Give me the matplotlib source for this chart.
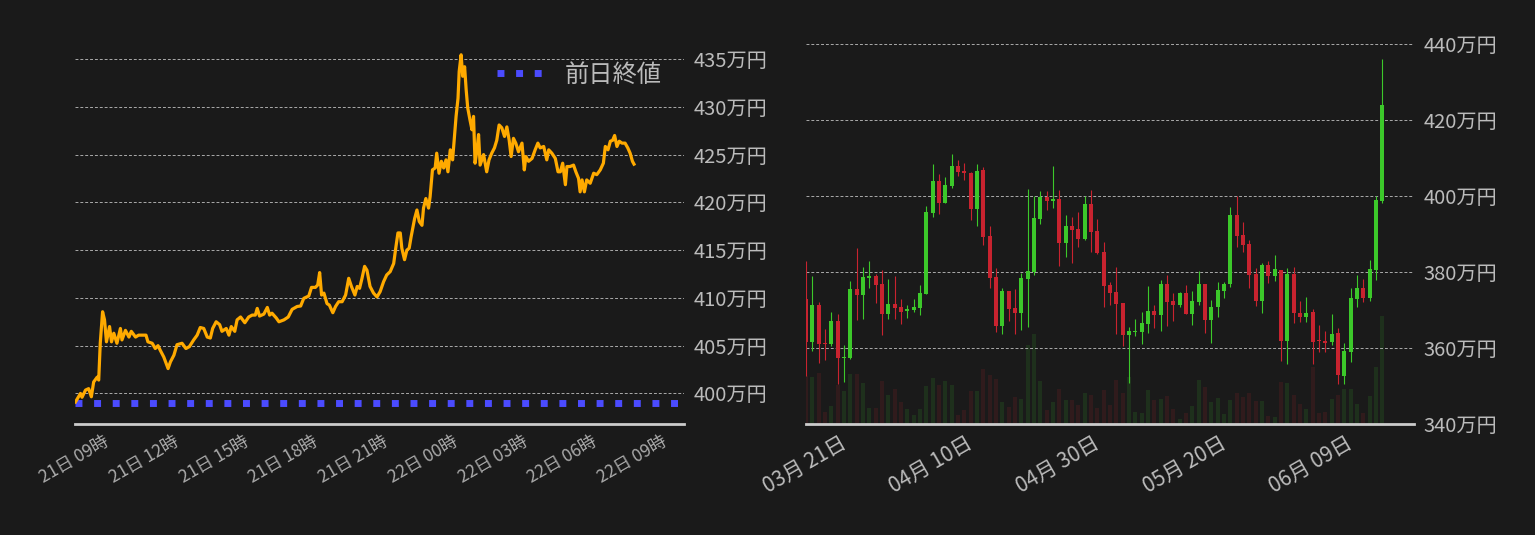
import numpy as np
import pandas as pd
import matplotlib
matplotlib.use('Agg')
import matplotlib.pyplot as plt
import matplotlib.dates as mdates
from matplotlib.ticker import MultipleLocator, FuncFormatter, FixedLocator

plt.rcParams['font.family'] = ['Noto Sans CJK JP', 'DejaVu Sans']

# ---- intraday (left) : minutes from 21日 00:00, price in 万円 ----
intra_minutes = [445, 458, 462, 471, 479, 486, 492, 501, 505, 509, 515, 520, 525, 533, 538, 544,
                 552, 561, 565, 574, 583, 589, 600, 608, 627, 632, 643, 651, 658, 664, 673, 684,
                 690, 699, 707, 720, 730, 739, 750, 759, 767, 776, 785, 793, 799, 808, 817, 823,
                 834, 841, 847, 856, 862, 871, 882, 892, 901, 909, 914, 920, 931, 940, 946, 952,
                 963, 970, 983, 994, 1004, 1017, 1026, 1034, 1047, 1054, 1064, 1070, 1075, 1080,
                 1086, 1094, 1100, 1109, 1116, 1124, 1133, 1142, 1150, 1157, 1166, 1172, 1178, 1184,
                 1191, 1197, 1205, 1214, 1223, 1231, 1240, 1248, 1257, 1266, 1272, 1277, 1283, 1287,
                 1294, 1300, 1306, 1311, 1320, 1326, 1332, 1339, 1343, 1349, 1356, 1360, 1366, 1373,
                 1377, 1383, 1389, 1395, 1401, 1406, 1412, 1418, 1423, 1427, 1432, 1435, 1440, 1444,
                 1449, 1453, 1457, 1463, 1468, 1472, 1476, 1481, 1485, 1489, 1498, 1506, 1512, 1519,
                 1526, 1532, 1538, 1545, 1552, 1558, 1564, 1569, 1575, 1581, 1588, 1597, 1603, 1607,
                 1614, 1623, 1631, 1638, 1644, 1653, 1661, 1666, 1674, 1683, 1690, 1696, 1702, 1709,
                 1713, 1721, 1730, 1736, 1743, 1747, 1752, 1758, 1764, 1773, 1782, 1790, 1799, 1807,
                 1812, 1819, 1825, 1831, 1836, 1842, 1848, 1855, 1863, 1870, 1876, 1882, 1886]
intra_price = [399.1, 400.0, 399.6, 400.35, 400.5, 399.65, 401.2, 401.7, 401.4, 405.25, 408.55, 407.7,
               405.4, 407.0, 405.4, 406.3, 405.25, 406.8, 405.6, 406.6, 405.9, 406.5, 405.9, 406.1,
               406.1, 405.4, 405.25, 404.7, 405.0, 404.5, 403.8, 402.6, 403.3, 404.0, 405.1, 405.25,
               404.7, 404.9, 405.6, 406.1, 406.9, 406.8, 405.9, 405.8, 406.8, 407.5, 407.2, 406.5,
               406.8, 406.1, 407.0, 406.5, 407.7, 408.0, 407.4, 408.0, 408.2, 408.2, 408.9, 408.1,
               408.3, 409.0, 408.2, 408.4, 407.9, 407.5, 407.7, 408.0, 408.8, 409.1, 409.15, 409.95,
               410.2, 411.1, 411.1, 411.35, 412.65, 410.3, 410.5, 409.4, 409.25, 408.45, 409.1, 409.6,
               409.6, 410.3, 412.05, 411.2, 410.3, 411.2, 411.0, 412.0,
               413.3, 412.9, 411.2, 410.5, 410.1, 410.65, 411.7, 412.4, 412.75, 413.6, 415.4, 416.8,
               416.8, 415.2, 414.0, 415.0, 415.2, 416.4, 418.3, 419.2, 418.0, 417.6, 419.4, 420.4,
               419.4, 420.6, 423.4, 423.6, 425.15, 423.05, 424.3, 423.6, 424.45, 423.2, 425.5, 424.45,
               426.9, 429.0, 430.9, 433.7, 435.45, 433.2, 434.2, 431.8, 429.9, 428.6, 427.6, 429.0,
               424.1, 425.5, 427.1, 423.9, 425.0, 423.2, 424.45, 425.15, 425.7, 426.5, 428.1, 427.8,
               426.9, 427.9, 426.5, 424.8, 426.7, 426.2, 425.3, 426.2, 423.4, 424.8, 424.3, 424.6,
               425.5, 426.2, 425.7, 425.85, 424.45, 425.5, 425.15, 424.6, 423.2, 423.2, 424.1, 421.85,
               423.75, 423.75, 423.9, 423.2, 422.5, 421.1, 422.35, 421.1, 422.35, 422.0, 423.05, 422.9,
               423.4, 424.1, 425.85, 425.5, 426.4, 426.5, 427.0, 425.85, 426.4, 426.2, 426.2, 425.7,
               425.15, 424.3, 424.0]
prev_close = 399.0

# ---- daily candles (right), 万円 ----
opens = [373.0, 361.5, 371.4, 361.1, 361.0, 367.2, 357.3, 357.5, 375.6, 373.9,
         378.5, 379.0, 376.9, 369.0, 371.7, 370.9, 369.8, 370.1, 370.6, 374.3,
         395.6, 404.0, 398.2, 402.7, 408.0, 406.7, 406.1, 396.7, 406.9, 389.6,
         378.8, 365.9, 375.1, 370.6, 369.3, 378.2, 380.1, 394.0, 399.8, 398.8,
         399.3, 387.7, 392.2, 391.4, 388.8, 398.0, 390.9, 385.4, 376.7, 374.8,
         371.9, 363.5, 364.3, 364.3, 366.4, 369.8, 368.8, 376.9, 372.5, 371.4,
         374.6, 369.0, 372.2, 376.9, 367.5, 370.9, 375.1, 376.9, 395.1, 389.8,
         387.5, 379.6, 372.5, 381.9, 379.0, 380.6, 361.9, 379.6, 369.3, 368.2,
         369.6, 361.9, 361.9, 361.7, 364.0, 352.7, 359.0, 373.0, 375.9, 373.2,
         380.6, 398.8]
highs = [383.0, 379.0, 372.0, 365.1, 369.6, 369.0, 360.9, 377.7, 386.4, 381.3,
         383.0, 379.6, 380.6, 378.2, 379.0, 373.0, 371.4, 373.0, 376.7, 397.5,
         408.5, 405.9, 405.1, 411.1, 409.6, 408.8, 406.4, 408.5, 407.7, 392.2,
         381.1, 375.9, 375.1, 375.6, 379.8, 401.9, 400.1, 401.4, 401.4, 408.0,
         401.7, 395.1, 394.6, 395.9, 400.1, 401.7, 394.0, 388.0, 377.5, 381.4,
         371.9, 365.6, 367.7, 369.6, 376.4, 371.4, 378.0, 379.3, 374.6, 374.8,
         376.7, 375.1, 380.4, 376.9, 372.7, 377.5, 377.5, 397.2, 400.1, 393.2,
         388.5, 381.1, 382.5, 383.0, 384.6, 380.6, 381.1, 381.4, 372.5, 373.5,
         370.4, 366.1, 364.6, 369.0, 365.4, 361.4, 375.9, 379.3, 378.2, 383.2,
         400.1, 436.1]
lows = [352.7, 359.1, 356.0, 356.9, 360.4, 350.4, 351.0, 357.2, 367.5, 367.7,
        375.9, 371.9, 363.5, 367.7, 367.7, 366.4, 368.0, 369.6, 368.8, 374.3,
        394.6, 395.4, 398.2, 402.2, 405.4, 404.3, 393.8, 392.2, 387.2, 375.9,
        364.3, 363.8, 367.2, 363.8, 364.8, 365.6, 379.3, 392.7, 396.4, 396.9,
        381.7, 384.0, 382.5, 386.7, 388.5, 385.4, 384.8, 370.9, 371.4, 363.8,
        360.4, 350.9, 363.2, 361.1, 364.0, 365.4, 364.6, 365.9, 367.2, 370.9,
        369.0, 366.1, 371.4, 364.0, 361.4, 368.2, 373.2, 376.1, 386.7, 385.4,
        375.9, 371.1, 369.3, 377.2, 377.7, 356.7, 355.9, 366.7, 366.9, 366.9,
        355.9, 359.0, 359.0, 360.9, 350.6, 350.4, 356.4, 370.9, 372.2, 372.5,
        378.0, 398.2]
closes = [361.5, 371.4, 361.0, 361.0, 367.2, 357.3, 357.7, 375.6, 373.9, 378.8,
          379.0, 376.7, 369.0, 371.7, 370.6, 369.6, 370.4, 370.9, 374.6, 395.9,
          404.0, 398.2, 403.0, 408.0, 406.4, 406.1, 396.7, 406.7, 389.3, 378.5,
          365.9, 375.1, 370.4, 369.3, 378.5, 380.4, 394.3, 399.8, 398.8, 399.3,
          387.7, 392.2, 391.1, 388.8, 398.0, 390.6, 385.1, 376.4, 374.6, 371.7,
          363.5, 364.6, 364.6, 366.7, 369.8, 368.8, 376.9, 372.2, 371.4, 374.6,
          369.0, 372.5, 376.9, 367.5, 370.9, 375.4, 376.9, 395.1, 389.6, 387.2,
          379.3, 372.5, 381.9, 379.0, 380.9, 361.9, 379.6, 369.3, 368.2, 369.3,
          361.7, 361.8, 361.4, 363.8, 353.0, 359.3, 373.2, 375.9, 373.2, 380.9,
          399.0, 424.0]
volumes = [144, 141, 154, 36, 54, 117, 100, 150, 150, 123,
           48, 48, 129, 87, 105, 65, 45, 27, 45, 114,
           138, 117, 129, 117, 27, 42, 99, 99, 165, 147,
           135, 66, 51, 81, 75, 237, 270, 129, 42, 66,
           105, 72, 72, 57, 93, 87, 48, 102, 57, 132,
           93, 141, 36, 33, 102, 72, 75, 84, 45, 15,
           33, 54, 132, 111, 66, 78, 30, 72, 93, 81,
           93, 69, 69, 24, 21, 126, 123, 87, 60, 45,
           171, 33, 36, 75, 87, 105, 105, 60, 33, 84,
           171, 324]
first_day = '2021-03-14'
date_ticks = ['2021-03-21', '2021-04-10', '2021-04-30', '2021-05-20', '2021-06-09']

BG = '#1a1a1a'
TXT = '#bbbbbb'
GREEN = '#3cc82a'
RED = '#c8232f'

fig = plt.figure(figsize=(15.35, 5.35), dpi=100, facecolor=BG)
man_fmt = FuncFormatter(lambda v, p: f'{v:.0f}万円')


def style_axes(ax):
    ax.set_facecolor(BG)
    for s in ['top', 'left', 'right']:
        ax.spines[s].set_visible(False)
    ax.spines['bottom'].set_color('#cccccc')
    ax.spines['bottom'].set_linewidth(2)
    ax.yaxis.tick_right()
    ax.yaxis.grid(True, color='#aaaaaa', linestyle=(0, (3, 2)), linewidth=0.7)
    ax.yaxis.set_major_formatter(man_fmt)
    ax.tick_params(axis='y', length=0, pad=7, labelsize=14.5, labelcolor=TXT)
    ax.tick_params(axis='x', length=0, pad=6)


# ---- left: intraday line ----
axl = fig.add_axes([0.0489, 0.2075, 0.3967, 0.7178])
style_axes(axl)
base = pd.Timestamp('2021-06-21')
t = base + pd.to_timedelta(intra_minutes, unit='m')
axl.axhline(prev_close, color='#4b4bff', lw=5, linestyle=(0, (1, 1.68)), label='前日終値', zorder=2)
axl.plot(t, intra_price, color='#ffaa00', lw=2.3, zorder=3)
axl.set_xlim(base + pd.Timedelta(minutes=444), base + pd.Timedelta(minutes=2015))
axl.set_ylim(396.8, 437.0)
axl.yaxis.set_major_locator(MultipleLocator(5))
axl.xaxis.set_major_locator(mdates.HourLocator(byhour=range(0, 24, 3)))
axl.xaxis.set_major_formatter(mdates.DateFormatter('%d日 %H時'))
for lab in axl.get_xticklabels():
    lab.set_rotation(30)
    lab.set_ha('right')
    lab.set_fontsize(12.5)
    lab.set_color('#aaaaaa')
axl.legend(loc='upper right', frameon=False, fontsize=17.5, labelcolor=TXT)

# ---- right: daily candles + volume ----
axr = fig.add_axes([0.5251, 0.2075, 0.3961, 0.7178])
axv = axr.twinx()
axr.set_zorder(axv.get_zorder() + 1)
axr.patch.set_visible(False)
axv.set_facecolor(BG)
for s in axv.spines.values():
    s.set_visible(False)
axv.set_yticks([])
style_axes(axr)

days = pd.date_range(first_day, periods=len(opens), freq='D')
o = np.array(opens)
c = np.array(closes)
up = c >= o
colors = np.where(up, GREEN, RED)

axv.bar(days, volumes, width=0.65, color=colors, alpha=0.13, linewidth=0)
axv.set_ylim(0, max(volumes) * 3.56)

axr.vlines(days, lows, highs, color=colors, linewidth=0.8, zorder=3)
body_h = np.maximum(np.abs(c - o), 0.3)
axr.bar(days, body_h, bottom=np.minimum(o, c), width=0.65, color=colors, linewidth=0, zorder=4)

axr.set_xlim(pd.Timestamp(first_day), pd.Timestamp(first_day) + pd.Timedelta(days=96))
axr.set_ylim(340, 441.1)
axr.yaxis.set_major_locator(MultipleLocator(20))
axr.xaxis.set_major_locator(FixedLocator(mdates.date2num(pd.to_datetime(date_ticks))))
axr.xaxis.set_major_formatter(mdates.DateFormatter('%m月 %d日'))
for lab in axr.get_xticklabels():
    lab.set_rotation(30)
    lab.set_ha('right')
    lab.set_fontsize(15)
    lab.set_color(TXT)

fig.savefig('out.png', dpi=100, facecolor=BG)
